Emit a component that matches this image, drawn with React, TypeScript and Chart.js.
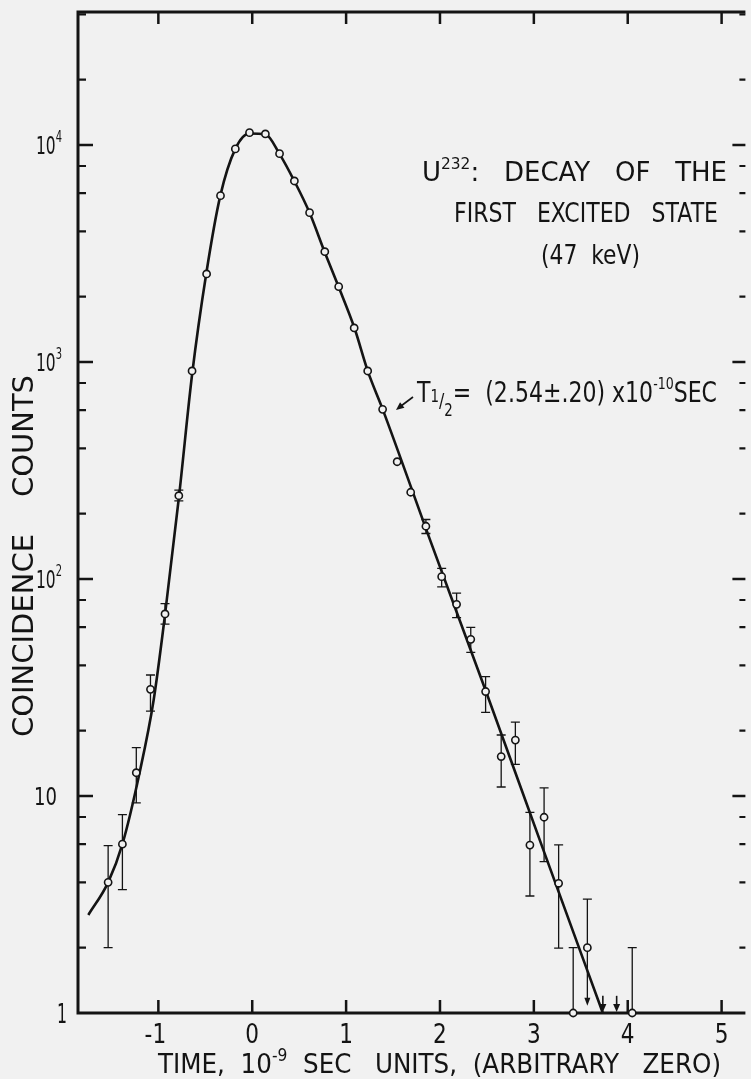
import React, { useEffect, useRef } from "react";
import { Chart, registerables } from "chart.js";

Chart.register(...registerables);

// Measured coincidence counts; time in units of 1e-9 s (arbitrary zero)
const timeValues = [
  -1.535, -1.383, -1.235, -1.084, -0.929, -0.782, -0.641, -0.486, -0.338, -0.18,
  -0.029, 0.14, 0.291, 0.449, 0.611, 0.773, 0.921, 1.086, 1.23, 1.389,
  1.544, 1.688, 1.85, 2.018, 2.177, 2.328, 2.486, 2.652, 2.803, 2.958,
  3.109, 3.264, 3.419, 3.57, 4.048,
];
const countValues = [
  4.0, 6.0, 12.8, 31, 69, 242, 909, 2545, 5840, 9590,
  11400, 11240, 9120, 6825, 4876, 3223, 2224, 1435, 909, 605,
  347, 251, 175, 102.5, 76.4, 52.7, 30.3, 15.2, 18.1, 5.94,
  7.98, 3.96, 1.0, 2.0, 1.0,
];
// Statistical error bar ends (null: bar hidden inside the marker)
const errorLow = [
  2.0, 3.7, 9.3, 24.6, 62, 229, null, null, null, null,
  null, null, null, null, null, null, null, null, null, null,
  null, null, 162, 92, 66.3, 45.9, 24.3, 11, 14, 3.46,
  4.98, 1.99, null, 1.08, null,
];
const errorHigh = [
  5.9, 8.2, 16.7, 36.1, 77, 257, null, null, null, null,
  null, null, null, null, null, null, null, null, null, null,
  null, null, 188, 112, 86, 59.9, 35.5, 19.1, 21.9, 8.4,
  10.9, 5.95, 2.0, 3.35, 2.0,
];
// Lower bars that end in an arrow instead of a cap
const arrowLowIndices = [33];
// Upper limits (zero counts) shown as short arrows onto the axis
const upperLimitTimes = [3.735, 3.882];
const upperLimitTops = [1.2, 1.2];

// Fitted curve
const fitTimes = [
  -1.746, -1.535, -1.383, -1.2, -1.05, -0.93, -0.78, -0.64, -0.49, -0.34,
  -0.18, -0.03, 0.14, 0.29, 0.45, 0.61, 0.77, 0.92, 1.09, 1.23,
  1.39, 1.9, 2.5, 3.1, 3.735,
];
const fitCounts = [
  2.83, 4.0, 6.0, 12.8, 27.7, 68, 240, 880, 2550, 5840,
  9600, 11300, 11200, 9100, 6800, 4880, 3220, 2220, 1430, 910,
  605, 149, 29.5, 5.66, 1.0,
];

const xTickValues = [-1, 0, 1, 2, 3, 4, 5];
const xTickLabels = ["-1", "0", "1", "2", "3", "4", "5"];
const yDecades = [1, 10, 100, 1000, 10000];
const yDecadeBase = ["1", "10", "10", "10", "10"];
const yDecadeExp = ["", "", "2", "3", "4"];
const yMinorSteps = [2, 4, 6, 8];

const FONT = '"DejaVu Sans", "Liberation Sans", sans-serif';
const INK = "#141414";
const PAPER = "#f1f1f1";

type Seg = { t: string; size?: number; dy?: number };

// Draws a run of text segments, squeezed horizontally to a given width
function drawRich(
  ctx: CanvasRenderingContext2D,
  segs: Seg[],
  x: number,
  y: number,
  width: number,
  baseSize: number
) {
  ctx.save();
  let natural = 0;
  const widths: number[] = [];
  for (const s of segs) {
    ctx.font = `${s.size ?? baseSize}px ${FONT}`;
    const w = ctx.measureText(s.t).width;
    widths.push(w);
    natural += w;
  }
  const sx = width / natural;
  ctx.translate(x, y);
  ctx.scale(sx, 1);
  ctx.textBaseline = "alphabetic";
  ctx.textAlign = "left";
  let cx = 0;
  segs.forEach((s, i) => {
    ctx.font = `${s.size ?? baseSize}px ${FONT}`;
    ctx.fillText(s.t, cx, s.dy ?? 0);
    cx += widths[i];
  });
  ctx.restore();
}

function arrowHead(ctx: CanvasRenderingContext2D, x: number, y: number, dx: number, dy: number, len: number, half: number) {
  const n = Math.hypot(dx, dy);
  const ux = dx / n;
  const uy = dy / n;
  ctx.beginPath();
  ctx.moveTo(x, y);
  ctx.lineTo(x - ux * len - uy * half, y - uy * len + ux * half);
  ctx.lineTo(x - ux * len + uy * half, y - uy * len - ux * half);
  ctx.closePath();
  ctx.fill();
}

const framePlugin = {
  id: "frame",
  beforeDraw(chart: any) {
    const { ctx, width, height } = chart;
    ctx.save();
    ctx.fillStyle = PAPER;
    ctx.fillRect(0, 0, width, height);
    ctx.restore();
  },
  beforeDatasetsDraw(chart: any) {
    const { ctx, chartArea: a, scales } = chart;
    const xs = scales.x;
    const ys = scales.y;
    ctx.save();
    ctx.strokeStyle = INK;
    ctx.fillStyle = INK;
    ctx.lineCap = "butt";

    // frame: left, top, bottom
    ctx.lineWidth = 3;
    ctx.beginPath();
    ctx.moveTo(a.right, a.top);
    ctx.lineTo(a.left, a.top);
    ctx.lineTo(a.left, a.bottom);
    ctx.lineTo(a.right, a.bottom);
    ctx.stroke();

    // x ticks (inward, top and bottom)
    ctx.lineWidth = 2.5;
    xTickValues.forEach((v) => {
      const px = xs.getPixelForValue(v);
      ctx.beginPath();
      ctx.moveTo(px, a.bottom);
      ctx.lineTo(px, a.bottom - 13);
      ctx.moveTo(px, a.top);
      ctx.lineTo(px, a.top + 12);
      ctx.stroke();
    });

    // y ticks (inward, left and right)
    yDecades.forEach((d, i) => {
      const py = ys.getPixelForValue(d);
      if (i > 0) {
        ctx.lineWidth = 2.5;
        ctx.beginPath();
        ctx.moveTo(a.left, py);
        ctx.lineTo(a.left + 15, py);
        ctx.moveTo(a.right, py);
        ctx.lineTo(a.right - 13, py);
        ctx.stroke();
      }
      yMinorSteps.forEach((m) => {
        const v = d * m;
        if (v > ys.max) return;
        const pm = ys.getPixelForValue(v);
        ctx.lineWidth = 2.2;
        ctx.beginPath();
        ctx.moveTo(a.left, pm);
        ctx.lineTo(a.left + 8, pm);
        ctx.moveTo(a.right, pm);
        ctx.lineTo(a.right - 6, pm);
        ctx.stroke();
      });
    });

    // x tick labels
    xTickValues.forEach((v, i) => {
      const px = xs.getPixelForValue(v);
      const label = xTickLabels[i];
      ctx.font = `27px ${FONT}`;
      const w = ctx.measureText(label).width * 0.8;
      const shift = label.startsWith("-") ? -3 : 0;
      drawRich(ctx, [{ t: label }], px - w / 2 + shift, a.bottom + 30, w, 27);
    });

    // y tick labels
    yDecades.forEach((d, i) => {
      const py = ys.getPixelForValue(d);
      if (yDecadeExp[i]) {
        drawRich(ctx, [{ t: yDecadeBase[i] }, { t: yDecadeExp[i], size: 16, dy: -12 }], 36, py + 9, 26, 25);
      } else if (yDecadeBase[i] === "10") {
        drawRich(ctx, [{ t: "10" }], 34, py + 9, 23, 25);
      } else {
        drawRich(ctx, [{ t: "1" }], 57, py + 10, 10, 26);
      }
    });

    // axis titles
    drawRich(
      ctx,
      [{ t: "TIME,  10" }, { t: "-9", size: 17, dy: -12 }, { t: "  SEC   UNITS,  (ARBITRARY   ZERO)" }],
      158,
      1073,
      563,
      27
    );
    ctx.save();
    ctx.translate(33, 737);
    ctx.rotate(-Math.PI / 2);
    drawRich(ctx, [{ t: "COINCIDENCE    COUNTS" }], 0, 0, 362, 28);
    ctx.restore();

    // annotations
    drawRich(
      ctx,
      [{ t: "U" }, { t: "232", size: 16, dy: -12 }, { t: ":   DECAY   OF   THE" }],
      422,
      181,
      305,
      27
    );
    drawRich(ctx, [{ t: "FIRST   EXCITED   STATE" }], 454, 222, 264, 27);
    drawRich(ctx, [{ t: "(47  keV)" }], 541, 264, 99, 27);
    drawRich(
      ctx,
      [
        { t: "T" },
        { t: "1", size: 17, dy: 0 },
        { t: "/", size: 20, dy: 5 },
        { t: "2", size: 17, dy: 14 },
        { t: "=  (2.54±.20) x10" },
        { t: "-10", size: 16, dy: -13 },
        { t: "SEC" },
      ],
      417,
      402,
      300,
      28
    );
    ctx.lineWidth = 1.6;
    ctx.beginPath();
    ctx.moveTo(413, 397);
    ctx.lineTo(401, 406);
    ctx.stroke();
    arrowHead(ctx, 396, 410, -15, 12, 8, 3.5);

    // error bars
    ctx.lineWidth = 1.3;
    timeValues.forEach((t, i) => {
      const lo = errorLow[i];
      const hi = errorHigh[i];
      if (lo == null && hi == null) return;
      const px = xs.getPixelForValue(t);
      const py = ys.getPixelForValue(countValues[i]);
      const cap = 4.5;
      const arrowLow = arrowLowIndices.includes(i);
      ctx.beginPath();
      if (hi != null) {
        const ph = ys.getPixelForValue(hi);
        ctx.moveTo(px, py);
        ctx.lineTo(px, ph);
        ctx.moveTo(px - cap, ph);
        ctx.lineTo(px + cap, ph);
      }
      if (lo != null) {
        const pl = ys.getPixelForValue(lo);
        ctx.moveTo(px, py);
        ctx.lineTo(px, arrowLow ? pl - 6 : pl);
        if (!arrowLow) {
          ctx.moveTo(px - cap, pl);
          ctx.lineTo(px + cap, pl);
        }
      }
      ctx.stroke();
      if (lo != null && arrowLow) {
        arrowHead(ctx, px, ys.getPixelForValue(lo), 0, 1, 8, 3);
      }
    });
    ctx.restore();
  },
  afterDatasetsDraw(chart: any) {
    const { ctx, chartArea: a, scales } = chart;
    const xs = scales.x;
    const ys = scales.y;
    ctx.save();
    ctx.strokeStyle = INK;
    ctx.fillStyle = INK;
    ctx.lineWidth = 1.6;
    upperLimitTimes.forEach((t, i) => {
      const px = xs.getPixelForValue(t);
      const top = ys.getPixelForValue(upperLimitTops[i]);
      ctx.beginPath();
      ctx.moveTo(px, top);
      ctx.lineTo(px, a.bottom - 6);
      ctx.stroke();
      arrowHead(ctx, px, a.bottom - 1, 0, 1, 8, 3.5);
    });
    ctx.restore();
  },
};

export default function App() {
  const ref = useRef<HTMLCanvasElement | null>(null);

  useEffect(() => {
    if (!ref.current) return;
    const chart = new Chart(ref.current, {
      type: "scatter",
      data: {
        datasets: [
          {
            type: "scatter",
            data: timeValues.map((x, i) => ({ x, y: countValues[i] })),
            pointRadius: 3.6,
            pointBackgroundColor: PAPER,
            pointBorderColor: INK,
            pointBorderWidth: 1.6,
            clip: false,
            order: 0,
          } as any,
          {
            type: "line",
            data: fitTimes.map((x, i) => ({ x, y: fitCounts[i] })),
            borderColor: INK,
            borderWidth: 2.6,
            pointRadius: 0,
            cubicInterpolationMode: "monotone",
            fill: false,
            clip: false,
            order: 1,
          } as any,
        ],
      },
      options: {
        responsive: false,
        animation: false,
        events: [],
        layout: { padding: { left: 78, top: 12, right: 0, bottom: 66 } },
        plugins: { legend: { display: false }, tooltip: { enabled: false } },
        scales: {
          x: { type: "linear", min: -1.856, max: 5.2535, display: false },
          y: { type: "logarithmic", min: 1, max: 41000, display: false },
        },
      },
      plugins: [framePlugin],
    });
    return () => chart.destroy();
  }, []);

  return (
    <div style={{ position: "fixed", left: 0, top: 0, width: 751, height: 1079, background: PAPER }}>
      <canvas ref={ref} width={751} height={1079} style={{ display: "block", width: 751, height: 1079 }} />
    </div>
  );
}
